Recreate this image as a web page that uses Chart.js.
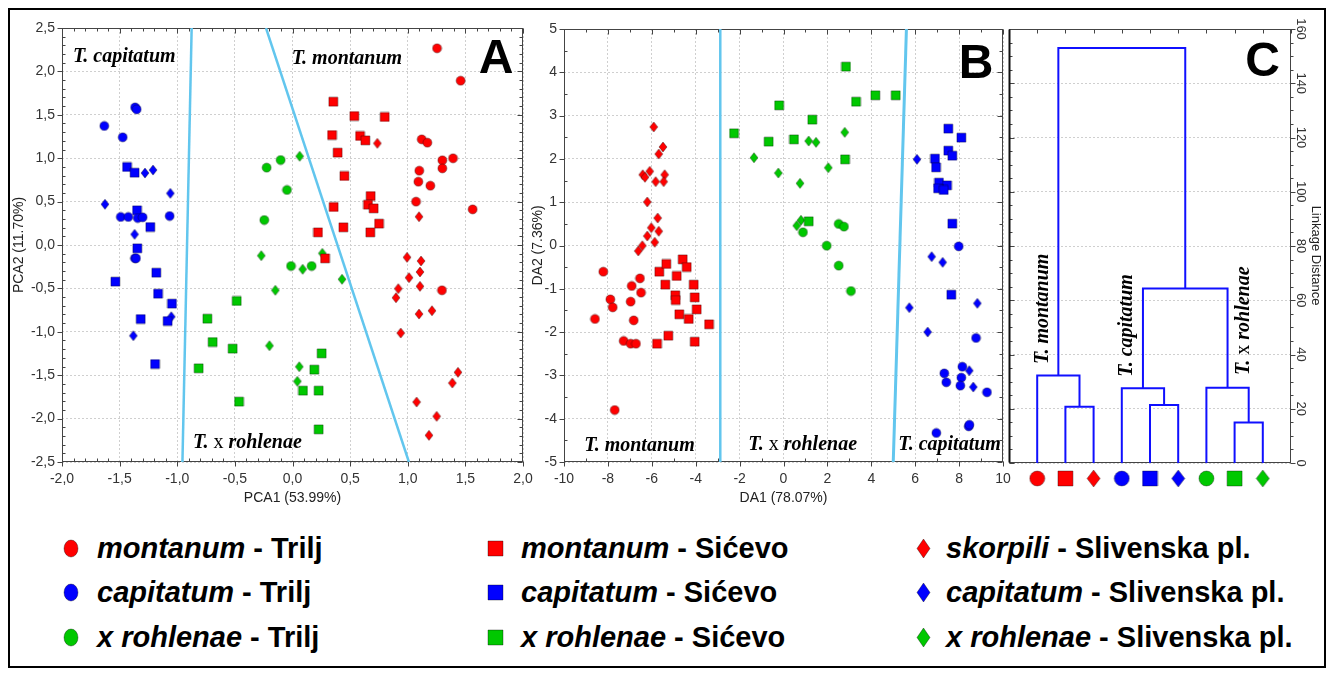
<!DOCTYPE html>
<html>
<head>
<meta charset="utf-8">
<title>PCA, DA and cluster analysis</title>
<script src="https://cdn.jsdelivr.net/npm/chart.js@4.4.0/dist/chart.umd.min.js"></script>
<style>
  body { margin: 0; background: #fff; }
  #page { position: relative; width: 1333px; height: 675px; overflow: hidden; background: #fff; }
  #frame { position: absolute; left: 8px; top: 8px; width: 1318px; height: 660px; border: 2px solid #000; box-sizing: border-box; }
  canvas { position: absolute; top: 0; }
  .leg { position: absolute; font: bold 29px Arial, "Liberation Sans", sans-serif; color: #000; white-space: nowrap; line-height: 32px; }
  .mk { position: absolute; }
</style>
</head>
<body>
<div id="page">
  <div id="frame"></div>
  <canvas id="pca" width="545" height="520" style="left:0"></canvas>
  <canvas id="da" width="490" height="520" style="left:530px"></canvas>
  <canvas id="tree" width="333" height="520" style="left:1000px"></canvas>
  <div id="legend"></div>
</div>
<script>
// groups, in the order of the dendrogram leaves
const groupSpecies = ['montanum', 'montanum', 'skorpili', 'capitatum', 'capitatum', 'capitatum', 'x rohlenae', 'x rohlenae', 'x rohlenae'];
const groupSites = ['Trilj', 'Sićevo', 'Slivenska pl.', 'Trilj', 'Sićevo', 'Slivenska pl.', 'Trilj', 'Sićevo', 'Slivenska pl.'];

// A - PCA scores [PCA1, PCA2]
const pcaMontanumTrilj = [[1.254, 2.266], [1.459, 1.893], [1.121, 1.217], [1.17, 1.179], [1.3, 0.976], [1.393, 0.999], [1.3, 0.883], [1.1, 0.856], [1.092, 0.729], [1.196, 0.683], [1.072, 0.499], [1.563, 0.411], [1.297, -0.522]];
const pcaMontanumSicevo = [[0.354, 1.651], [0.536, 1.486], [0.8, 1.475], [0.343, 1.267], [0.586, 1.256], [0.632, 1.206], [0.392, 1.064], [0.45, 0.795], [0.678, 0.564], [0.655, 0.464], [0.704, 0.422], [0.357, 0.438], [0.751, 0.246], [0.441, 0.204], [0.221, 0.146], [0.675, 0.146], [0.282, -0.154]];
const pcaSkorpiliSlivenska = [[0.736, 1.171], [1.098, 0.326], [0.994, -0.142], [1.115, -0.184], [1.011, -0.376], [1.106, -0.311], [0.918, -0.503], [1.106, -0.476], [0.898, -0.607], [1.21, -0.757], [1.098, -0.795], [0.939, -1.014], [1.436, -1.467], [1.387, -1.59], [1.077, -1.809], [1.251, -1.974], [1.184, -2.193]];
const pcaCapitatumTrilj = [[-1.366, 1.586], [-1.352, 1.563], [-1.633, 1.371], [-1.473, 1.241], [-1.49, 0.323], [-1.425, 0.323], [-1.343, 0.311], [-1.3, 0.319], [-1.066, 0.334], [-1.367, -0.153], [-1.358, -0.153]];
const pcaCapitatumSicevo = [[-1.436, 0.899], [-1.37, 0.833], [-1.349, 0.4], [-1.234, 0.207], [-1.347, -0.038], [-1.182, -0.319], [-1.537, -0.422], [-1.167, -0.561], [-1.046, -0.676], [-1.317, -0.853], [-1.083, -0.876], [-1.193, -1.371]];
const pcaCapitatumSlivenska = [[-1.28, 0.829], [-1.21, 0.864], [-1.06, 0.595], [-1.627, 0.469], [-1.37, 0.123], [-1.052, -0.826], [-1.381, -1.045]];
const pcaRohlenaeTrilj = [[-0.224, 0.891], [-0.103, 0.979], [-0.048, 0.634], [-0.245, 0.288], [-0.013, -0.242], [0.166, -0.242]];
const pcaRohlenaeSicevo = [[-0.484, -0.645], [-0.739, -0.849], [-0.693, -1.118], [-0.519, -1.194], [-0.814, -1.42], [-0.464, -1.805], [0.253, -1.248], [0.189, -1.436], [0.091, -1.678], [0.227, -1.678], [0.227, -2.124]];
const pcaRohlenaeSlivenska = [[0.062, 1.022], [-0.271, -0.123], [0.259, -0.096], [0.088, -0.28], [0.43, -0.395], [-0.149, -0.522], [-0.2, -1.16], [0.059, -1.402], [0.042, -1.571]];
// separating lines in A
const pcaLineLeft = [[-0.875, 2.5], [-0.955, -2.5]];
const pcaLineRight = [[-0.23, 2.5], [1.01, -2.5]];

// B - discriminant scores [DA1, DA2]
const daMontanumTrilj = [[-8.21, -0.605], [-6.538, -0.758], [-6.916, -0.935], [-6.492, -1.089], [-7.89, -1.243], [-6.962, -1.297], [-7.781, -1.428], [-8.588, -1.697], [-6.825, -1.728], [-7.281, -2.205], [-6.962, -2.268], [-6.72, -2.268], [-7.69, -3.8]];
const daMontanumSicevo = [[-4.592, -0.319], [-5.658, -0.605], [-5.339, -0.427], [-4.41, -0.497], [-4.866, -0.704], [-5.385, -0.905], [-4.091, -0.905], [-4.929, -1.15], [-4.911, -1.259], [-4.046, -1.197], [-3.954, -1.474], [-4.747, -1.589], [-4.319, -1.697], [-3.394, -1.82], [-5.248, -2.083], [-5.763, -2.268], [-4.046, -2.222]];
const daSkorpiliSlivenska = [[-5.913, 2.737], [-5.49, 2.275], [-5.686, 2.113], [-6.096, 1.713], [-6.415, 1.635], [-6.31, 1.575], [-5.823, 1.474], [-5.413, 1.635], [-5.459, 1.474], [-6.205, 1.005], [-5.732, 0.635], [-6.023, 0.411], [-5.686, 0.328], [-6.205, 0.219], [-5.868, 0.074], [-6.43, -0.005], [-6.615, -0.127]];
const daCapitatumTrilj = [[7.982, -0.019], [8.77, -2.136], [8.147, -2.799], [7.326, -2.952], [8.101, -3.052], [7.417, -3.159], [8.056, -3.237], [9.271, -3.39], [8.437, -4.176], [8.47, -4.14], [6.962, -4.33]];
const daCapitatumSicevo = [[7.508, 2.698], [8.101, 2.49], [7.508, 2.19], [7.69, 2.074], [6.902, 2.005], [6.948, 1.805], [7.084, 1.451], [7.449, 1.39], [7.039, 1.321], [7.298, 1.282], [7.69, 0.504], [7.645, -1.136]];
const daCapitatumSlivenska = [[6.082, 1.99], [6.75, -0.258], [7.252, -0.389], [5.733, -1.436], [8.83, -1.336], [6.568, -1.998], [8.465, -2.891], [8.647, -3.268]];
const daRohlenaeTrilj = [[0.888, 0.305], [2.515, 0.497], [2.756, 0.435], [1.968, -0.005], [2.515, -0.466], [3.075, -1.051]];
const daRohlenaeSicevo = [[-2.255, 2.591], [-0.676, 2.398], [-0.2, 3.237], [2.847, 4.13], [3.303, 3.321], [4.183, 3.469], [5.112, 3.469], [1.312, 2.906], [0.478, 2.452], [2.802, 1.99], [1.148, 0.559]];
const daRohlenaeSlivenska = [[-1.344, 2.028], [-0.236, 1.674], [1.147, 2.413], [1.481, 2.383], [2.788, 2.614], [2.041, 1.797], [0.752, 1.436], [0.797, 0.582], [0.601, 0.458]];
// separating lines in B
const daLineLeft = [[-2.88, 5], [-2.88, -5]];
const daLineRight = [[5.6, 5], [5.0, -5]];

// C - cluster joins (nodes 1..9 are leaves, join i makes node 10+i)
const joinLeft = [2, 1, 5, 4, 8, 7, 13, 11];
const joinRight = [3, 10, 6, 12, 9, 14, 15, 16];
const joinHeight = [20.7, 32.3, 21.4, 27.6, 14.9, 27.7, 64.3, 153];

// tick values
const pcaXTicks = [-2, -1.5, -1, -0.5, 0, 0.5, 1, 1.5, 2];
const pcaYTicks = [-2.5, -2, -1.5, -1, -0.5, 0, 0.5, 1, 1.5, 2, 2.5];
const daXTicks = [-10, -8, -6, -4, -2, 0, 2, 4, 6, 8, 10];
const daYTicks = [-5, -4, -3, -2, -1, 0, 1, 2, 3, 4, 5];
const distTicks = [0, 20, 40, 60, 80, 100, 120, 140, 160];

const pcaGroups = [pcaMontanumTrilj, pcaMontanumSicevo, pcaSkorpiliSlivenska, pcaCapitatumTrilj, pcaCapitatumSicevo, pcaCapitatumSlivenska, pcaRohlenaeTrilj, pcaRohlenaeSicevo, pcaRohlenaeSlivenska];
const daGroups = [daMontanumTrilj, daMontanumSicevo, daSkorpiliSlivenska, daCapitatumTrilj, daCapitatumSicevo, daCapitatumSlivenska, daRohlenaeTrilj, daRohlenaeSicevo, daRohlenaeSlivenska];

// styles
const speciesColors = ['#ff0000', '#0000ff', '#00c800'];
const siteShapes = ['circle', 'rect', 'diamond'];
const lineCyan = '#62c6ee';
const treeBlue = '#1010ff';
const sans = 'Arial, "Liberation Sans", sans-serif';
const serifBI = 'italic bold 20px "Liberation Serif", "Times New Roman", serif';
const serifR = '20px "Liberation Serif", "Times New Roman", serif';
const letterFont = 'bold 48px ' + sans;

Chart.defaults.font.family = sans;
Chart.defaults.color = '#222';

function colorOf(i) { return speciesColors[Math.floor(i / 3)]; }
function shapeOf(i) { return siteShapes[i % 3]; }

// small marker pictures, used as pointStyle
function markerImage(shape, color, w, h) {
  const c = document.createElement('canvas');
  c.width = w + 2;
  c.height = h + 2;
  const g = c.getContext('2d');
  const cx = c.width / 2, cy = c.height / 2;
  g.beginPath();
  if (shape === 'circle') g.ellipse(cx, cy, w / 2, h / 2, 0, 0, Math.PI * 2);
  else if (shape === 'rect') g.rect(1, 1, w, h);
  else {
    g.moveTo(cx, 1); g.lineTo(cx + w / 2, cy); g.lineTo(cx, cy + h / 2); g.lineTo(cx - w / 2, cy); g.closePath();
  }
  g.fillStyle = color;
  g.fill();
  g.strokeStyle = 'rgba(0,0,0,0.35)';
  g.lineWidth = 1;
  g.stroke();
  return c;
}

const smallSize = { circle: [9, 9], rect: [9, 9], diamond: [8, 10] };
const leafSize = { circle: [15, 15], rect: [15, 15], diamond: [13, 17] };
const legendSize = { circle: [14, 17], rect: [15, 15], diamond: [13, 19] };

function scatterSets(groups) {
  return groups.map((pts, i) => {
    const s = smallSize[shapeOf(i)];
    return {
      data: pts.map(p => ({ x: p[0], y: p[1] })),
      pointStyle: markerImage(shapeOf(i), colorOf(i), s[0], s[1]),
      pointRadius: 4
    };
  });
}

function lineSet(pts, color, width) {
  return {
    data: pts.map(p => ({ x: p[0], y: p[1] })),
    showLine: true,
    borderColor: color,
    borderWidth: width,
    pointRadius: 0,
    tension: 0
  };
}

// frame round the plot with major and minor tick marks (positive = inward)
function frameLayer(o) {
  return {
    id: 'frameLayer',
    beforeDatasetsDraw(chart) {
      const ctx = chart.ctx, xs = chart.scales.x, ys = chart.scales.y;
      const L = Math.round(xs.getPixelForValue(o.xr[0])) + 0.5;
      const R = Math.round(xs.getPixelForValue(o.xr[1])) - 0.5;
      const T = Math.round(ys.getPixelForValue(o.yr[1])) + 0.5;
      const B = Math.round(ys.getPixelForValue(o.yr[0])) - 0.5;
      const each = (r, step, fn) => {
        const n = Math.round((r[1] - r[0]) / step);
        for (let i = 0; i <= n; i++) fn(r[0] + i * step);
      };
      const isMajor = (v, m) => Math.abs(v / m - Math.round(v / m)) < 1e-6;
      ctx.save();
      ctx.strokeStyle = o.color;
      ctx.lineWidth = 1;
      ctx.beginPath();
      each(o.xr, o.xMinor, v => {
        const p = Math.round(xs.getPixelForValue(v)) + 0.5;
        const m = isMajor(v, o.xMajor);
        const lt = m ? o.top[0] : o.top[1], lb = m ? o.bottom[0] : o.bottom[1];
        if (lt) { ctx.moveTo(p, T); ctx.lineTo(p, T + lt); }
        if (lb) { ctx.moveTo(p, B); ctx.lineTo(p, B - lb); }
      });
      each(o.yr, o.yMinor, v => {
        const p = Math.round(ys.getPixelForValue(v)) + 0.5;
        const m = isMajor(v, o.yMajor);
        const ll = m ? o.left[0] : o.left[1], lr = m ? o.right[0] : o.right[1];
        if (ll) { ctx.moveTo(L, p); ctx.lineTo(L + ll, p); }
        if (lr) { ctx.moveTo(R, p); ctx.lineTo(R - lr, p); }
      });
      ctx.stroke();
      ctx.strokeRect(L, T, R - L, B - T);
      if (o.leftWidth) {
        ctx.lineWidth = o.leftWidth;
        ctx.strokeStyle = '#111';
        ctx.beginPath(); ctx.moveTo(L, T); ctx.lineTo(L, B); ctx.stroke();
      }
      ctx.restore();
    }
  };
}

// species names and panel letters, anchored in data units
function textLayer(items) {
  return {
    id: 'textLayer',
    afterDatasetsDraw(chart) {
      const ctx = chart.ctx, xs = chart.scales.x, ys = chart.scales.y;
      items.forEach(it => {
        ctx.save();
        ctx.translate(xs.getPixelForValue(it.x), ys.getPixelForValue(it.y));
        if (it.rot) ctx.rotate(it.rot);
        ctx.fillStyle = '#000';
        ctx.textBaseline = 'alphabetic';
        let total = 0;
        it.parts.forEach(p => { ctx.font = p[1]; total += ctx.measureText(p[0]).width; });
        let x = it.align === 'right' ? -total : 0;
        it.parts.forEach(p => { ctx.font = p[1]; ctx.fillText(p[0], x, 0); x += ctx.measureText(p[0]).width; });
        ctx.restore();
      });
    }
  };
}

const tMontanum = [['T. montanum', serifBI]];
const tCapitatum = [['T. capitatum', serifBI]];
const tRohlenae = [['T. ', serifBI], ['x ', serifR], ['rohlenae', serifBI]];

function axisBase(ticks, fmt) {
  return {
    type: 'linear',
    min: ticks[0],
    max: ticks[ticks.length - 1],
    afterBuildTicks: s => { s.ticks = ticks.map(v => ({ value: v })); },
    ticks: { callback: fmt, autoSkip: false, maxRotation: 0, font: { size: 14 }, color: '#333' },
    grid: { color: '#cfcfcf', drawTicks: false },
    border: { display: false, dash: [2, 2] }
  };
}

const comma = v => (Math.round(v * 10) / 10).toFixed(1).replace('.', ',');
const plain = v => String(v);
const baseOptions = {
  responsive: false,
  animation: false,
  events: [],
  plugins: { legend: { display: false }, tooltip: { enabled: false } }
};

// A - PCA
const pcaX = axisBase(pcaXTicks, comma);
pcaX.ticks.padding = 9;
pcaX.title = { display: true, text: 'PCA1 (53.99%)', font: { size: 14 }, color: '#222', padding: { top: 0, bottom: 13.6 } };
pcaX.afterFit = s => { s.height = 58; };
const pcaY = axisBase(pcaYTicks, comma);
pcaY.ticks.padding = 7;
pcaY.title = { display: true, text: 'PCA2 (11.70%)', font: { size: 14 }, color: '#222', padding: { top: 10.6, bottom: 0 } };
pcaY.afterFit = s => { s.width = 62; };

new Chart(document.getElementById('pca'), {
  type: 'scatter',
  data: { datasets: scatterSets(pcaGroups).concat([lineSet(pcaLineLeft, lineCyan, 2.5), lineSet(pcaLineRight, lineCyan, 2.5)]) },
  options: Object.assign({}, baseOptions, {
    layout: { padding: { left: 0, top: 28, right: 22, bottom: 0 } },
    scales: { x: pcaX, y: pcaY }
  }),
  plugins: [
    frameLayer({ xr: [-2, 2], yr: [-2.5, 2.5], xMajor: 0.5, xMinor: 0.1, yMajor: 0.5, yMinor: 0.1, color: '#444', top: [5, 3], bottom: [-5, 3], left: [-5, 3], right: [5, 3] }),
    textLayer([
      { parts: tCapitatum, x: -1.905, y: 2.112 },
      { parts: tMontanum, x: -0.007, y: 2.082 },
      { parts: tRohlenae, x: -0.863, y: -2.339 },
      { parts: [['A', letterFont]], x: 1.916, y: 1.978, align: 'right' }
    ])
  ]
});

// B - DA
const daX = axisBase(daXTicks, plain);
daX.ticks.padding = 9;
daX.title = { display: true, text: 'DA1 (78.07%)', font: { size: 14 }, color: '#222', padding: { top: 0, bottom: 13.6 } };
daX.afterFit = s => { s.height = 58; };
const daY = axisBase(daYTicks, plain);
daY.ticks.padding = 7;
daY.title = { display: true, text: 'DA2 (7.36%)', font: { size: 14 }, color: '#222', padding: { top: 0, bottom: 0 } };
daY.afterFit = s => { s.width = 34; };

new Chart(document.getElementById('da'), {
  type: 'scatter',
  data: { datasets: scatterSets(daGroups).concat([lineSet(daLineLeft, lineCyan, 2.5), lineSet(daLineRight, lineCyan, 3)]) },
  options: Object.assign({}, baseOptions, {
    layout: { padding: { left: 0, top: 29, right: 17, bottom: 0 } },
    scales: { x: daX, y: daY }
  }),
  plugins: [
    frameLayer({ xr: [-10, 10], yr: [-5, 5], xMajor: 2, xMinor: 1, yMajor: 1, yMinor: 0.5, color: '#444', top: [5, 3], bottom: [-5, 3], left: [-5, 3], right: [5, 3] }),
    textLayer([
      { parts: tMontanum, x: -9.075, y: -4.746 },
      { parts: tRohlenae, x: -1.604, y: -4.734 },
      { parts: tCapitatum, x: 5.23, y: -4.723 },
      { parts: [['B', letterFont]], x: 9.56, y: 3.86, align: 'right' }
    ])
  ]
});

// C - dendrogram built from the joins
const nodeX = [null, 1, 2, 3, 4, 5, 6, 7, 8, 9];
const nodeH = [null, 0, 0, 0, 0, 0, 0, 0, 0, 0];
const treeSets = joinLeft.map((a, i) => {
  const b = joinRight[i], h = joinHeight[i];
  nodeX.push((nodeX[a] + nodeX[b]) / 2);
  nodeH.push(h);
  return lineSet([[nodeX[a], nodeH[a]], [nodeX[a], h], [nodeX[b], h], [nodeX[b], nodeH[b]]], treeBlue, 2);
});
const LEAF_Y = -5.7; // leaf symbols sit under the axis
const leafSet = {
  data: groupSpecies.map((s, i) => ({ x: i + 1, y: LEAF_Y })),
  pointStyle: groupSpecies.map((s, i) => { const z = leafSize[shapeOf(i)]; return markerImage(shapeOf(i), colorOf(i), z[0], z[1]); }),
  pointRadius: 7,
  clip: false
};

const rotatedTicks = {
  id: 'rotatedTicks',
  afterDraw(chart) {
    const ctx = chart.ctx, ys = chart.scales.y;
    ctx.save();
    ctx.font = '13px ' + sans;
    ctx.fillStyle = '#333';
    ctx.textAlign = 'center';
    ctx.textBaseline = 'middle';
    ys.ticks.forEach(t => {
      ctx.save();
      ctx.translate(chart.chartArea.right + 10, ys.getPixelForValue(t.value));
      ctx.rotate(Math.PI / 2);
      ctx.fillText(String(t.value), 0, 0);
      ctx.restore();
    });
    ctx.restore();
  }
};

new Chart(document.getElementById('tree'), {
  type: 'scatter',
  data: { datasets: [leafSet].concat(treeSets) },
  options: Object.assign({}, baseOptions, {
    layout: { padding: { left: 9, top: 29, right: 0, bottom: 0 } },
    scales: {
      x: {
        type: 'linear', min: 0, max: 10,
        ticks: { display: false },
        grid: { display: false },
        border: { display: false },
        afterFit: s => { s.height = 38; }
      },
      y: {
        type: 'linear', position: 'right', min: -7, max: 160,
        afterBuildTicks: s => { s.ticks = distTicks.map(v => ({ value: v })); },
        ticks: { display: false },
        grid: { color: '#cfcfcf', drawTicks: false },
        border: { display: false, dash: [2, 2] },
        title: { display: true, text: 'Linkage Distance', font: { size: 13 }, color: '#222', padding: { top: 9.6, bottom: 0 } },
        afterFit: s => { s.width = 42; }
      }
    }
  }),
  plugins: [
    frameLayer({ xr: [0, 10], yr: [0, 160], xMajor: 1, xMinor: 1, yMajor: 20, yMinor: 5, color: '#444', top: [4, 4], bottom: [0, 0], left: [5, 3], right: [-5, -3], leftWidth: 2 }),
    rotatedTicks,
    textLayer([
      { parts: tMontanum, x: 1.37, y: 36.5, rot: -Math.PI / 2 },
      { parts: tCapitatum, x: 4.36, y: 31.8, rot: -Math.PI / 2 },
      { parts: tRohlenae, x: 8.51, y: 32.4, rot: -Math.PI / 2 },
      { parts: [['C', letterFont]], x: 9.61, y: 142.6, align: 'right' }
    ])
  ]
});

// legend: rows = species, columns = site
const legendMarkX = [71, 495, 923];
const legendTextX = [97, 521, 946];
const legendRowY = [548, 592, 637];
const legendBox = document.getElementById('legend');
groupSpecies.forEach((sp, i) => {
  const col = i % 3, row = Math.floor(i / 3);
  const z = legendSize[shapeOf(i)];
  const mk = markerImage(shapeOf(i), colorOf(i), z[0], z[1]);
  mk.className = 'mk';
  mk.style.left = (legendMarkX[col] - mk.width / 2) + 'px';
  mk.style.top = (legendRowY[row] - mk.height / 2) + 'px';
  legendBox.appendChild(mk);
  const t = document.createElement('div');
  t.className = 'leg';
  t.style.left = legendTextX[col] + 'px';
  t.style.top = (legendRowY[row] - 16) + 'px';
  t.innerHTML = '<i>' + sp + '</i> - ' + groupSites[i];
  legendBox.appendChild(t);
});
</script>
</body>
</html>
